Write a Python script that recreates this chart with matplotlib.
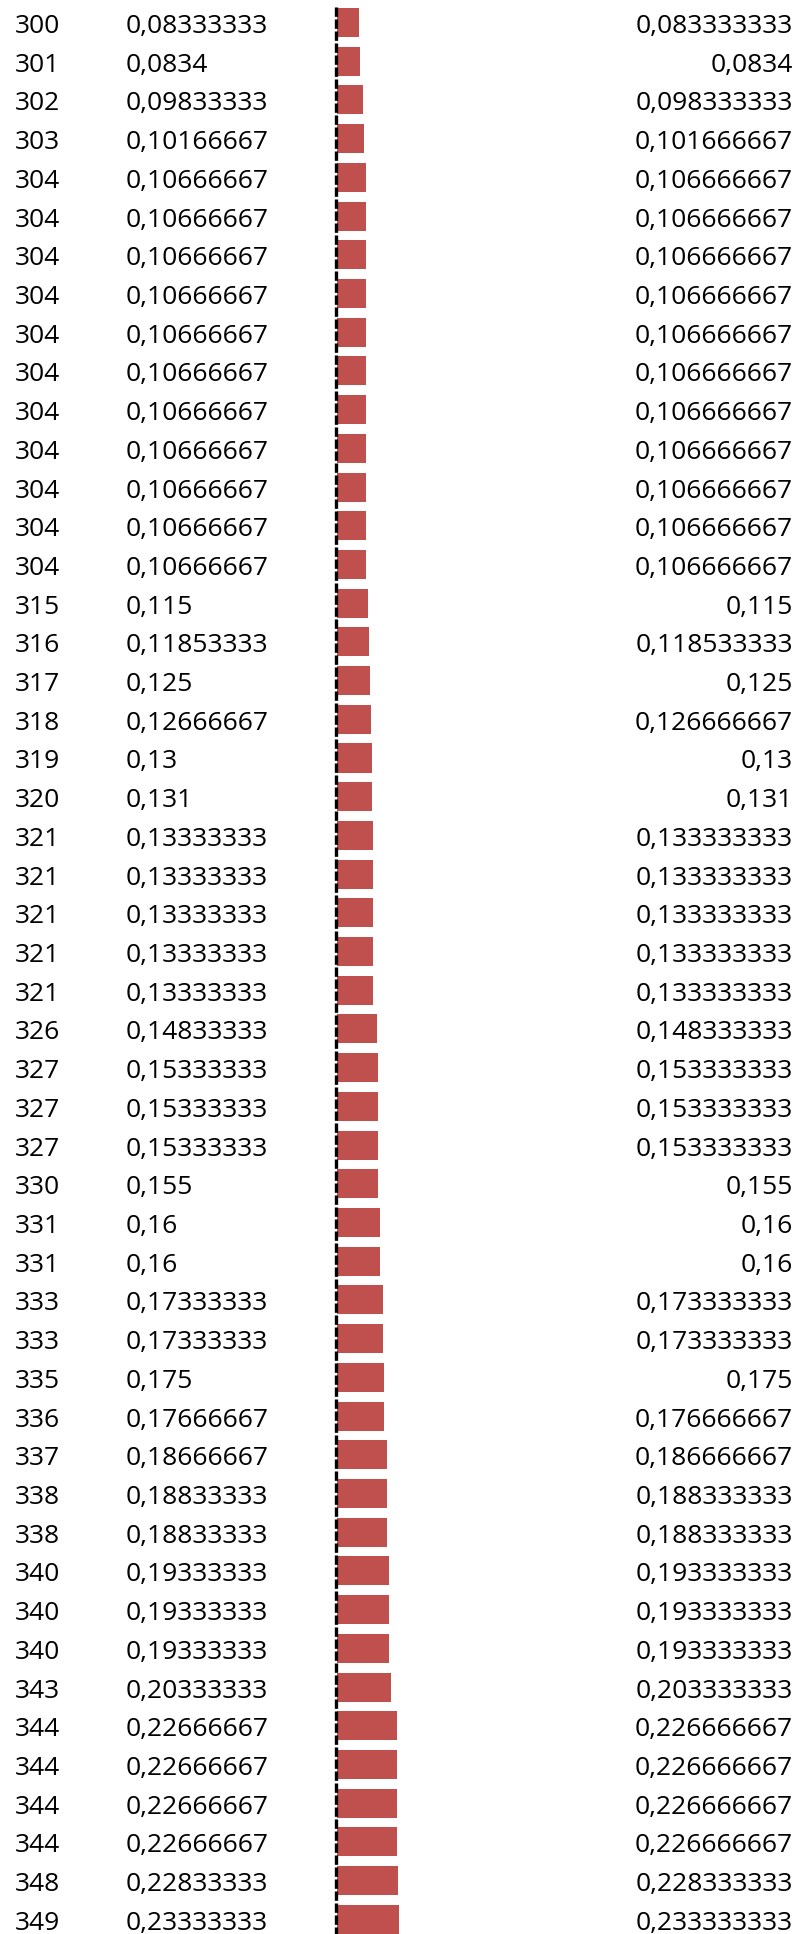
import matplotlib
matplotlib.use("Agg")
import matplotlib.pyplot as plt

ranks = [300, 301, 302, 303] + [304] * 11 + [315, 316, 317, 318, 319, 320] + [321] * 5 + \
        [326] + [327] * 3 + [330] + [331] * 2 + [333] * 2 + [335, 336, 337] + [338] * 2 + \
        [340] * 3 + [343] + [344] * 4 + [348, 349]

values = [0.083333333, 0.0834, 0.098333333, 0.101666667] + [0.106666667] * 11 + \
         [0.115, 0.118533333, 0.125, 0.126666667, 0.13, 0.131] + [0.133333333] * 5 + \
         [0.148333333] + [0.153333333] * 3 + [0.155] + [0.16] * 2 + [0.173333333] * 2 + \
         [0.175, 0.176666667, 0.186666667] + [0.188333333] * 2 + [0.193333333] * 3 + \
         [0.203333333] + [0.226666667] * 4 + [0.228333333, 0.233333333]


def fmt(v, nd):
    s = f"{v:.{nd}f}".rstrip("0").rstrip(".")
    return s.replace(".", ",")


W, H = 802, 1934
fig = plt.figure(figsize=(W / 100, H / 100), dpi=100)
ax = fig.add_axes([0, 0, 1, 1])
ax.axis("off")

px_per_unit = 264.0
zero_px = 337.5
pitch = 38.71
first_center = 22.5

ax.set_xlim(-zero_px / px_per_unit, (W - zero_px) / px_per_unit)
ax.set_ylim((H - first_center) / pitch, -first_center / pitch)

n = len(values)
ys = list(range(n))
ax.barh(ys, values, height=0.75, left=0, color="#C0504D", edgecolor="none")

ax.plot([-1.5 / px_per_unit] * 2, [-(first_center - 7) / pitch, n + 1], color="black",
        lw=2.4, linestyle=(0, (2.8, 0.8)), solid_capstyle="butt", zorder=3)

font = dict(family="Open Sans", fontsize=19, color="black")
off = 10.5 / pitch
tr = ax.get_yaxis_transform()
for i, (r, v) in enumerate(zip(ranks, values)):
    ax.text(15 / W, i + off, str(r), transform=tr, ha="left", va="baseline", **font)
    ax.text(126 / W, i + off, fmt(v, 8), transform=tr, ha="left", va="baseline", **font)
    ax.text(793 / W, i + off, fmt(v, 9), transform=tr, ha="right", va="baseline", **font)

fig.savefig("out.png", dpi=100)
